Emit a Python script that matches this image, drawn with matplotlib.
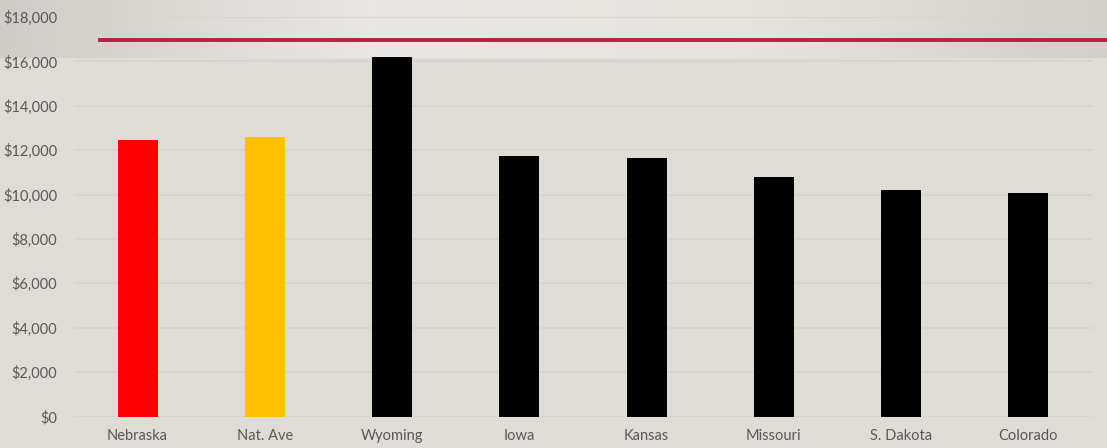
import numpy as np
import matplotlib
matplotlib.use("Agg")
import matplotlib.pyplot as plt
from matplotlib.ticker import FuncFormatter, MultipleLocator
from matplotlib.colors import LinearSegmentedColormap

categories = ["Nebraska", "Nat. Ave", "Wyoming", "Iowa", "Kansas", "Missouri", "S. Dakota", "Colorado"]
values = [12450, 12600, 16200, 11740, 11650, 10800, 10210, 10070]
bar_colors = ["#ff0000", "#ffc000", "#000000", "#000000", "#000000", "#000000", "#000000", "#000000"]
y_ticks = [0, 2000, 4000, 6000, 8000, 10000, 12000, 14000, 16000, 18000]

plt.rcParams['font.family'] = ['Lato', 'DejaVu Sans']

W, H = 1107, 448
fig = plt.figure(figsize=(W / 100, H / 100), dpi=100)
fig.patch.set_facecolor("#dfdcd5")

# decorative header band with horizontal gradient
band = fig.add_axes([0, 1 - 58 / H, 1, 58 / H], zorder=0)
cmap = LinearSegmentedColormap.from_list("band", ["#cfccc7", "#e9e7e3", "#e6e4df", "#d2cfca"])
grad = np.linspace(0, 1, 512)[None, :]
band.imshow(grad, aspect="auto", cmap=cmap, extent=[0, 1, 0, 1])
band.set_axis_off()

ax = fig.add_axes([74 / W, 1 - 416.5 / H, (1092 - 74) / W, (416.5 - 17) / H], zorder=1)
ax.patch.set_alpha(0)

x = np.arange(len(categories))
ax.bar(x, values, width=0.314, color=bar_colors, zorder=3)
ax.set_xlim(-0.5, len(categories) - 0.5)
ax.set_ylim(0, 18000)
ax.set_yticks(y_ticks)
ax.yaxis.set_major_formatter(FuncFormatter(lambda v, p: f"${v:,.0f}"))
ax.set_xticks(x)
ax.set_xticklabels(categories)
ax.grid(axis="y", color="#d6d3cd", linewidth=1.2, zorder=0)
ax.set_axisbelow(True)
for s in ax.spines.values():
    s.set_visible(False)
ax.tick_params(axis="both", length=0, colors="#595959", labelsize=10.5)
ax.tick_params(axis="y", pad=12)
ax.tick_params(axis="x", pad=9)

# decorative red rule in header
fig.add_artist(plt.Line2D([100 / W, 1], [1 - 40 / H, 1 - 40 / H], color="#b71f44",
                          linewidth=2.8, transform=fig.transFigure, zorder=5))

fig.savefig("out.png", dpi=100, facecolor=fig.get_facecolor())
